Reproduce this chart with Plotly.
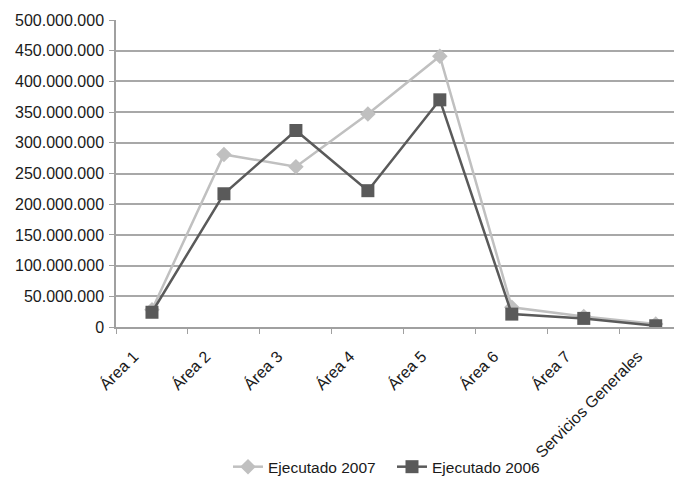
import plotly.graph_objects as go

categories = ["Área 1", "Área 2", "Área 3", "Área 4", "Área 5", "Área 6", "Área 7", "Servicios Generales"]
ejecutado_2007 = [28e6, 281e6, 261e6, 347e6, 441e6, 32e6, 17e6, 5e6]
ejecutado_2006 = [24e6, 217e6, 320e6, 222e6, 370e6, 21e6, 14e6, 2e6]
y_ticks = [0, 50e6, 100e6, 150e6, 200e6, 250e6, 300e6, 350e6, 400e6, 450e6, 500e6]

fig = go.Figure()
fig.add_trace(go.Scatter(
    x=categories, y=ejecutado_2007, name="Ejecutado 2007", mode="lines+markers",
    line=dict(color="#c0c0c0", width=2.5),
    marker=dict(symbol="diamond", size=12, color="#c0c0c0"),
))
fig.add_trace(go.Scatter(
    x=categories, y=ejecutado_2006, name="Ejecutado 2006", mode="lines+markers",
    line=dict(color="#5a5a5a", width=2.5),
    marker=dict(symbol="square", size=13, color="#5a5a5a"),
))

fam = "Liberation Sans, Arial, sans-serif"
yfont = dict(family=fam, size=16, color="#1a1a1a")
xfont = dict(family=fam, size=16, color="#1a1a1a")
lfont = dict(family=fam, size=15.5, color="#1a1a1a")

fig.update_layout(
    width=674, height=468,
    margin=dict(l=108, r=0, t=12, b=149, autoexpand=False),
    paper_bgcolor="white", plot_bgcolor="white",
    separators=",.",
    font=xfont,
    showlegend=True,
    legend=dict(orientation="h", xref="container", yref="container",
                x=0.3264, y=0.019, xanchor="left", yanchor="middle",
                entrywidth=119, entrywidthmode="pixels",
                font=lfont, bgcolor="rgba(0,0,0,0)"),
    xaxis=dict(
        type="category", range=[-0.5, 7.365], automargin=False,
        tickangle=-45, tickson="boundaries", ticks="outside", ticklen=5,
        tickcolor="#a0a0a0", showline=True, linecolor="#a0a0a0", linewidth=1.5,
        showgrid=False, tickfont=xfont, ticklabelstandoff=12, ticklabelshift=-18,
    ),
    yaxis=dict(
        range=[0, 500e6], tickvals=y_ticks, tickformat=",d", automargin=False,
        ticks="outside", ticklen=5, tickcolor="#a0a0a0",
        showline=True, linecolor="#a0a0a0", linewidth=1.5,
        showgrid=True, gridcolor="#a8a8a8", gridwidth=1.5,
        zeroline=False, tickfont=yfont, ticklabelstandoff=2,
    ),
)

fig.write_html("out.html")
